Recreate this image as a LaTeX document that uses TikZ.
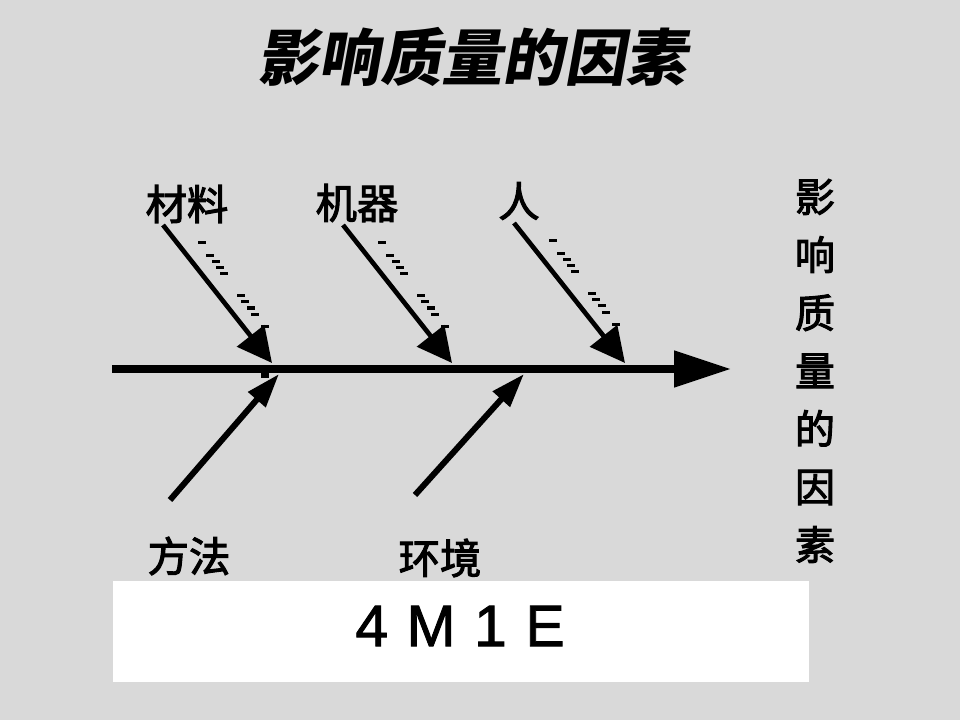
\documentclass[tikz,border=0pt]{standalone}
\usepackage{fontspec}
\setmainfont{Liberation Sans}
\newfontfamily\cjk[FakeBold=2.5]{Noto Sans CJK SC}
\newfontfamily\titlefont[FakeSlant=0.18]{Noto Sans CJK SC}
\newfontfamily\codefont[FakeBold=1.6]{Liberation Sans}
\usetikzlibrary{arrows.meta}
\definecolor{bg}{RGB}{217,217,217}
\tikzset{
  spine/.style={line width=6pt,-{Triangle[length=42.75pt,width=26.25pt]}},
  upshaft/.style={line width=3.5pt,-{Triangle[length=26pt,width=25.5pt]}},
  lowshaft/.style={line width=4.5pt,-{Triangle[length=25.5pt,width=16.5pt]}},
  lab/.style={font=\cjk\fontsize{31pt}{31pt}\selectfont,inner sep=0pt},
  side/.style={font=\cjk\fontsize{30pt}{43.5pt}\selectfont,inner sep=0pt,align=center},
  ttl/.style={font=\titlefont\bfseries\fontsize{46pt}{46pt}\selectfont,inner sep=0pt},
  codetxt/.style={font=\codefont\fontsize{44pt}{44pt}\selectfont,inner sep=0pt}
}
\begin{document}
\begin{tikzpicture}[x=0.75pt,y=-0.75pt]
\fill[bg] (0,0) rectangle (960,720);
\useasboundingbox (0,0) rectangle (960,720);

% title
\node[ttl] (title) at (472,57) {影响质量的因素};

% labels
\node[lab] (cl) at (187,204) {材料};
\node[lab] (jq) at (357,203) {机器};
\node[lab] (rn) at (519,201) {人};
\node[lab] (ff) at (189,556) {方法};
\node[lab] (hj) at (440,558) {环境};
\node[side] (sd) at (815,371) {影\\响\\质\\量\\的\\因\\素};

% spine
\coordinate (s0) at (112,369);
\coordinate (s1) at (731,369);
\draw[spine] (s0) -- (s1);
\fill (261,373) rectangle (269,378);

% upper arrows
\coordinate (t1) at (163,225); \coordinate (h1) at (272,363);
\coordinate (t2) at (343,225); \coordinate (h2) at (452,363);
\coordinate (t3) at (514,223); \coordinate (h3) at (625,363);
\draw[upshaft] (t1) -- (h1);
\draw[upshaft] (t2) -- (h2);
\draw[upshaft] (t3) -- (h3);
\foreach \t in {t1,t2,t3}{
  \foreach \dx/\dy in {39/18,47/31,53/37,57/43,61/49,78/71,82/77,88/83,92/89,102/101}{
    \fill ([shift={(\dx-4,\dy-1.5)}]\t) rectangle ++(8,3);
  }
}

% lower arrows
\coordinate (b1) at (170,500); \coordinate (k1) at (279,374);
\coordinate (b2) at (415,495); \coordinate (k2) at (524,374);
\draw[lowshaft] (b1) -- (k1);
\draw[lowshaft] (b2) -- (k2);

% bottom box
\fill[white] (113,581) rectangle (809,682);
\node[codetxt] (code) at (460,626) {4\hspace{14pt}M\hspace{14pt}1\hspace{14pt}E};
\end{tikzpicture}
\end{document}
